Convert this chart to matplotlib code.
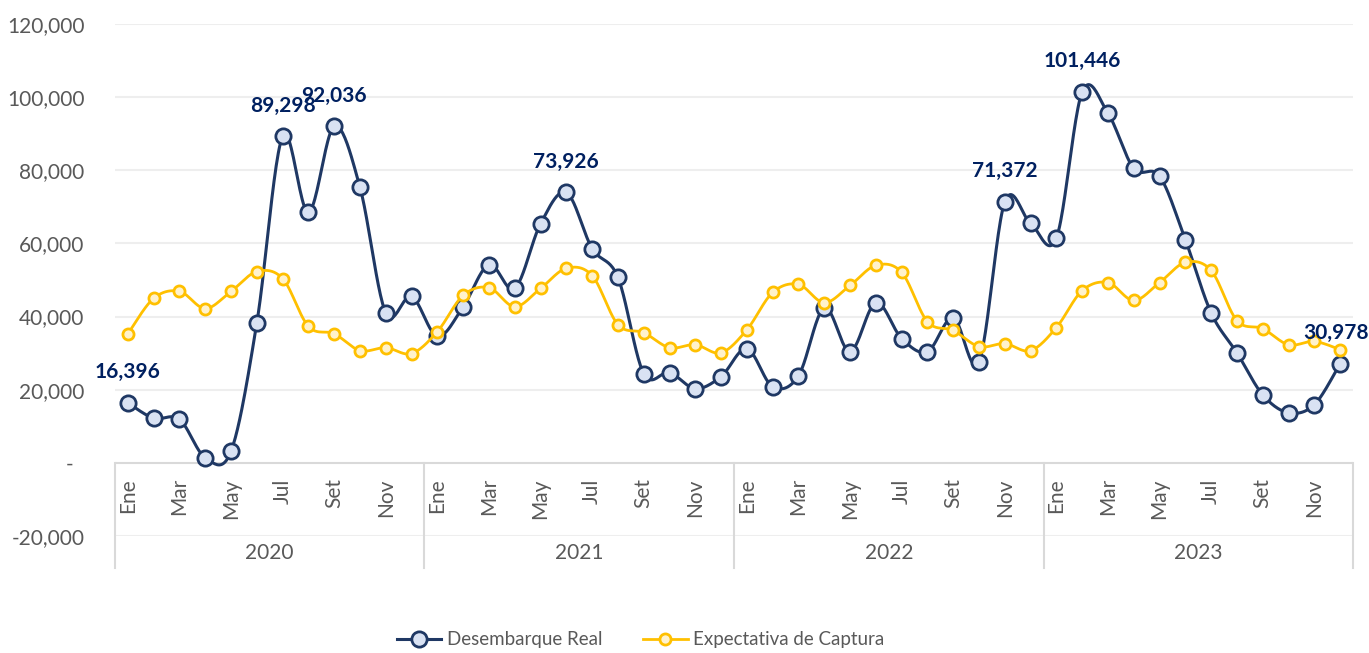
import numpy as np
import matplotlib
matplotlib.use("Agg")
import matplotlib.pyplot as plt
from matplotlib.lines import Line2D

plt.rcParams["font.family"] = ["Lato", "DejaVu Sans"]

# Datos
anios = ["2020", "2021", "2022", "2023"]
meses = ["Ene", "Feb", "Mar", "Abr", "May", "Jun", "Jul", "Ago", "Set", "Oct", "Nov", "Dic"]

desembarque_real = [
    16396, 12200, 11900, 1400, 3200, 38300, 89298, 68500, 92036, 75300, 41000, 45500,
    34600, 42700, 54200, 47700, 65400, 73926, 58600, 50700, 24400, 24700, 20300, 23600,
    31200, 20800, 23800, 42400, 30400, 43800, 34000, 30400, 39700, 27700, 71372, 65500,
    61500, 101446, 95600, 80500, 78400, 61000, 41000, 30100, 18600, 13700, 15900, 27100,
]
expectativa_captura = [
    35300, 45000, 46900, 42200, 46900, 52300, 50400, 37300, 35300, 30700, 31500, 29900,
    35900, 45800, 47900, 42700, 47700, 53200, 51200, 37800, 35600, 31500, 32300, 30100,
    36400, 46600, 48800, 43800, 48500, 54000, 52100, 38600, 36200, 31800, 32600, 30700,
    37000, 47100, 49300, 44400, 49300, 54800, 52600, 38900, 36700, 32300, 33200, 30978,
]

# etiquetas de datos (indice, texto)
etiquetas = [(0, "16,396"), (6, "89,298"), (8, "92,036"), (17, "73,926"),
             (34, "71,372"), (37, "101,446"), (47, "30,978")]

AZUL = "#1f3864"
AZUL_CLARO = "#d9e2f3"
AMARILLO = "#ffc000"
AMARILLO_CLARO = "#fff2cc"
GRIS = "#595959"


def suavizar(x, y, n=24):
    # curva tipo Catmull-Rom que pasa por todos los puntos (linea suavizada)
    p = np.column_stack([x, y]).astype(float)
    p = np.vstack([p[0], p, p[-1]])
    out = []
    t = np.linspace(0, 1, n, endpoint=False)[:, None]
    for i in range(1, len(p) - 2):
        p0, p1, p2, p3 = p[i - 1], p[i], p[i + 1], p[i + 2]
        seg = 0.5 * (2 * p1 + (-p0 + p2) * t + (2 * p0 - 5 * p1 + 4 * p2 - p3) * t ** 2
                     + (-p0 + 3 * p1 - 3 * p2 + p3) * t ** 3)
        out.append(seg)
    out.append(p[-2][None, :])
    out = np.vstack(out)
    return out[:, 0], out[:, 1]


x = np.arange(len(desembarque_real))

fig = plt.figure(figsize=(13.69, 6.53), dpi=100)
ax = fig.add_axes([115 / 1369, 1 - 536 / 653, 1238 / 1369, 512 / 653])

ax.set_xlim(-0.5, len(x) - 0.5)
ax.set_ylim(-20000, 120000)

# grilla
for v in range(-20000, 120001, 20000):
    if v == 0:
        continue
    ax.axhline(v, color="#eeeeee", lw=1.5, zorder=0)
ax.axhline(0, color="#d9d9d9", lw=1.5, zorder=1)

# series
xs, ys = suavizar(x, desembarque_real)
ax.plot(xs, ys, color=AZUL, lw=2.2, zorder=3, solid_capstyle="round")
ax.plot(x, desembarque_real, ls="none", marker="o", ms=11, mfc=AZUL_CLARO, mec=AZUL, mew=2, zorder=4)

xs, ys = suavizar(x, expectativa_captura)
ax.plot(xs, ys, color=AMARILLO, lw=2, zorder=5, solid_capstyle="round")
ax.plot(x, expectativa_captura, ls="none", marker="o", ms=8, mfc=AMARILLO_CLARO, mec=AMARILLO, mew=2, zorder=6)

for i, txt in etiquetas:
    dx = -3 if i == len(x) - 1 else 0
    ax.annotate(txt, (x[i], desembarque_real[i]), xytext=(dx, 22), textcoords="offset points",
                ha="center", va="center", fontsize=15, fontweight="bold", color="#002060", zorder=7)

# eje y
ax.set_yticks(range(-20000, 120001, 20000))
ax.set_yticklabels(["-  " if v == 0 else f"{v:,}" for v in range(-20000, 120001, 20000)])
ax.tick_params(axis="y", length=0, pad=22, labelsize=15, labelcolor=GRIS)
ax.set_xticks([])
for s in ax.spines.values():
    s.set_visible(False)

# eje x de dos niveles
trans = ax.get_xaxis_transform()
for k in range(len(anios) + 1):
    ax.plot([k * 12 - 0.5] * 2, [0.1426, -0.0625], transform=trans, color="#d9d9d9",
            lw=1.5, clip_on=False, zorder=1)
for k, anio in enumerate(anios):
    for m in range(0, 12, 2):
        ax.text(k * 12 + m, 0.113, meses[m], transform=trans, rotation=90, ha="center", va="top",
                fontsize=15, color=GRIS)
    ax.text(k * 12 + 5.5, -0.033, anio, transform=trans, ha="center", va="center",
            fontsize=15, color=GRIS)

# leyenda
handles = [
    Line2D([], [], color=AZUL, lw=2.2, marker="o", ms=11, mfc=AZUL_CLARO, mec=AZUL, mew=2),
    Line2D([], [], color=AMARILLO, lw=2, marker="o", ms=8, mfc=AMARILLO_CLARO, mec=AMARILLO, mew=2),
]
fig.legend(handles, ["Desembarque Real", "Expectativa de Captura"], loc="center",
           bbox_to_anchor=(0.468, 0.02), ncol=2, frameon=False, fontsize=13.5, labelcolor=GRIS,
           handlelength=2.35, handletextpad=0.3, columnspacing=2.2, numpoints=1)

fig.savefig("out.png", dpi=100)
